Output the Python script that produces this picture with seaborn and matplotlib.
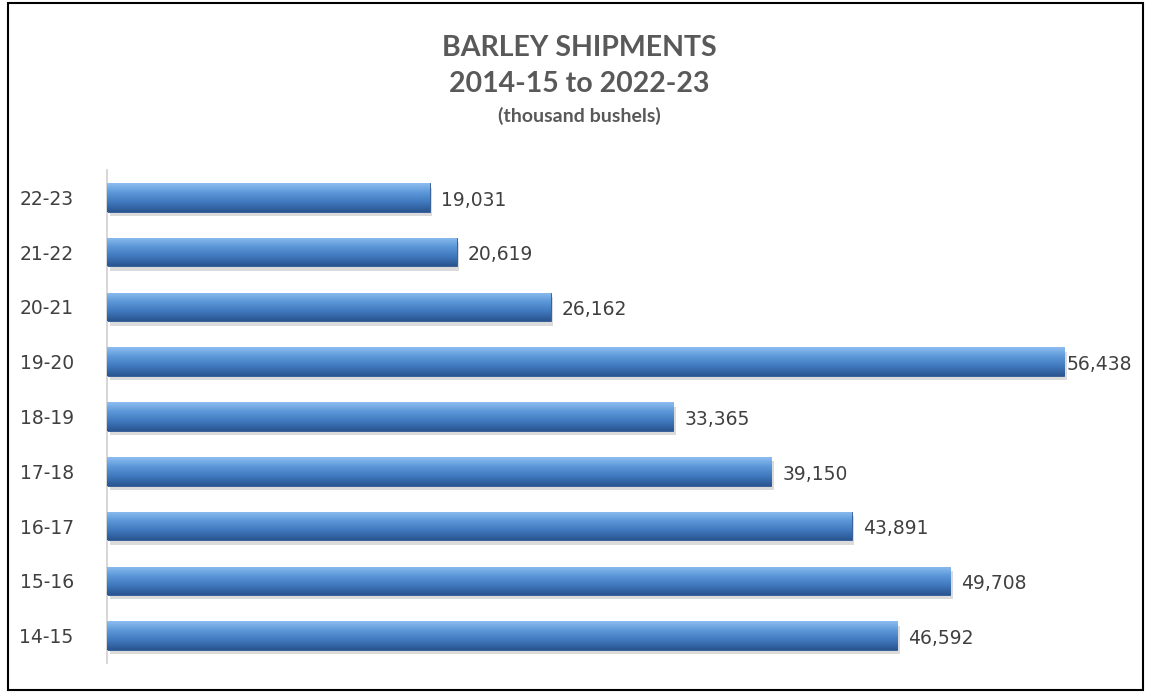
import numpy as np
import pandas as pd
import seaborn as sns
import matplotlib
matplotlib.use("Agg")
import matplotlib.pyplot as plt
from matplotlib.patches import Rectangle
from matplotlib.colors import LinearSegmentedColormap

# Data

seasons = ["22-23", "21-22", "20-21", "19-20", "18-19", "17-18", "16-17", "15-16", "14-15"]
shipments = [19031, 20619, 26162, 56438, 33365, 39150, 43891, 49708, 46592]

df = pd.DataFrame({"season": seasons, "shipments": shipments})

sns.set_theme(style="white")
plt.rcParams["font.family"] = ["DejaVu Sans"]

fig = plt.figure(figsize=(11.51, 6.93), dpi=100)
ax = fig.add_axes([107 / 1151, (693 - 663) / 693, (1130 - 107) / 1151, (663 - 170) / 693])

sns.barplot(data=df, x="shipments", y="season", orient="h", color="#4a86c8",
            width=0.52, ax=ax, saturation=1)

# Gradient fill on each bar (light at top, dark at bottom)
cmap = LinearSegmentedColormap.from_list("bar", ["#8dbdf0", "#5b97d8", "#3f78bd", "#2a5590"])
grad = np.linspace(0, 1, 64).reshape(-1, 1)
for p in ax.patches:
    x0, y0 = p.get_x(), p.get_y()
    w, h = p.get_width(), p.get_height()
    # soft shadow below
    sh = Rectangle((x0 + 150, y0 + 0.08), w, h, color="#b8b8b8", alpha=0.5, zorder=1, lw=0)
    ax.add_patch(sh)
    im = ax.imshow(grad, cmap=cmap, aspect="auto", extent=(x0, x0 + w, y0, y0 + h),
                   origin="lower", zorder=3)
    im.set_clip_path(p)
    p.set_zorder(2)
    p.set_edgecolor("#2a5590")
    p.set_linewidth(0.6)

xmax = 60300
ax.set_xlim(0, xmax)
ax.set_ylim(8.5, -0.5)

# value labels, pulled in close to the bar when there is no room
for i, v in enumerate(shipments):
    off = 650 if v < 0.9 * xmax else 150
    ax.text(v + off, i + 0.05, f"{v:,}", va="center", ha="left", fontsize=13.5, color="#404040")

ax.set_xlabel("")
ax.set_ylabel("")
ax.set_xticks([])
ax.tick_params(axis="y", length=0, pad=24, labelsize=13.5, labelcolor="#404040")
for s in ["top", "right", "bottom"]:
    ax.spines[s].set_visible(False)
ax.spines["left"].set_color("#d0d0d0")
ax.spines["left"].set_linewidth(1.2)

# Titles
tfont = ["Lato", "DejaVu Sans"]
fig.text(0.503, 1 - 48 / 693, "BARLEY SHIPMENTS", ha="center", va="center", fontsize=20.5,
         color="#595959", fontweight="bold", family=tfont)
fig.text(0.503, 1 - 84 / 693, "2014-15 to 2022-23", ha="center", va="center", fontsize=20.5,
         color="#595959", fontweight="bold", family=tfont)
fig.text(0.503, 1 - 116 / 693, "(thousand bushels)", ha="center", va="center", fontsize=14,
         color="#595959", fontweight="bold", family=tfont)

# Outer border
fig.patches.append(Rectangle((8 / 1151, 3 / 693), 1135 / 1151, 687 / 693, transform=fig.transFigure,
                             fill=False, edgecolor="black", linewidth=1.5))

fig.savefig("out.png", dpi=100)
